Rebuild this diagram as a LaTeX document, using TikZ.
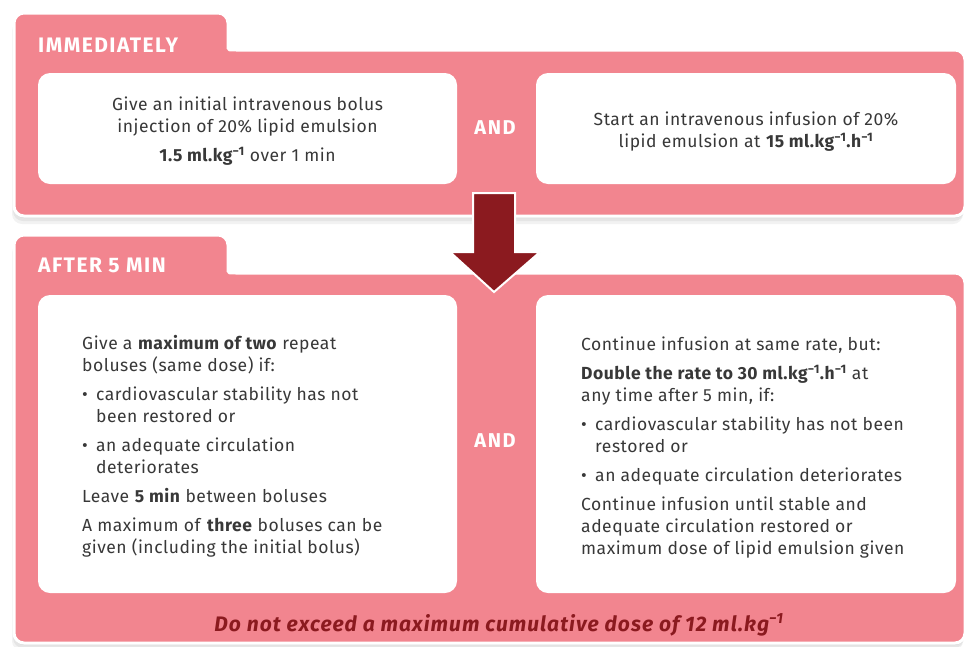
\documentclass[tikz,border=0pt]{standalone}
\usepackage{fontspec}
\setmainfont{Fira Sans}
\definecolor{pnk}{HTML}{F2858F}
\definecolor{arrred}{HTML}{8B1A1F}
\definecolor{txtgray}{HTML}{383838}
\newcommand{\sm}{\textsuperscript{−1}}
\newcommand{\bul}{\makebox[14pt][l]{•}}
\newcommand{\drawpanel}[4]{%
  \path[rounded corners=10pt,#4] (14,#3) -- (14,#1) -- (228,#1) -- (228,#2-12)
    [sharp corners] .. controls (228,#2) .. (240,#2)
    [rounded corners=10pt] -- (965,#2) -- (965,#3) -- cycle;}
\begin{document}
\begin{tikzpicture}[x=1pt,y=-1pt,
  wbox/.style={fill=white, rounded corners=12pt, inner sep=0pt},
  body/.style={inner sep=0pt, text=txtgray, align=left,
    font=\fontsize{17.5}{22}\selectfont\addfontfeature{LetterSpace=3}},
  title/.style={inner sep=0pt, text=white,
    font=\fontsize{21}{24}\selectfont\bfseries\addfontfeature{LetterSpace=7}},
  andlbl/.style={inner sep=0pt, text=white,
    font=\fontsize{20}{22}\selectfont\bfseries\addfontfeature{LetterSpace=8}},
  panelfill/.style={fill=pnk, draw=white, line width=3pt},
  shade/.style={fill=black, opacity=0.05}]
\useasboundingbox (0,0) rectangle (968,646);
\fill[white] (0,0) rectangle (968,646);
% shadows
\drawpanel{13}{50}{216}{shade, shift={(0,2)}}
\drawpanel{13}{50}{216}{shade, shift={(-1,5)}}
\drawpanel{13}{50}{216}{shade, shift={(-2,8)}}
\drawpanel{235}{273}{643}{shade, shift={(0,2)}}
\drawpanel{235}{273}{643}{shade, shift={(-1,5)}}
\drawpanel{235}{273}{643}{shade, shift={(-2,8)}}
% panels
\drawpanel{13}{50}{216}{panelfill}
\drawpanel{235}{273}{643}{panelfill}
% titles
\node[title, anchor=base west] (h1) at (38,52) {IMMEDIATELY};
\node[title, anchor=base west] (h2) at (38,272) {AFTER 5 MIN};
% top boxes
\node[wbox, minimum width=419pt, minimum height=111pt] (b1) at (247.5,128.5) {};
\node[wbox, minimum width=420pt, minimum height=111pt] (b2) at (746,128.5) {};
\node[body, align=center] (t1) at (b1.center) [yshift=-3pt]
  {Give an initial intravenous bolus\\ injection of 20\% lipid emulsion\\[7pt]
   \textbf{1.5 ml.kg\sm} over 1 min};
\node[body, align=center] (t2) at (b2.center) [yshift=-3pt]
  {Start an intravenous infusion of 20\%\\ lipid emulsion at \textbf{15 ml.kg\sm.h\sm}};
\node[andlbl] (a1) at (495,128) {AND};
% arrow
\draw[fill=arrred, draw=white, line width=2pt, line join=miter]
  (473,193) -- (515,193) -- (515,252) -- (540,252) -- (494,292) -- (450,252) -- (473,252) -- cycle;
% bottom boxes
\node[wbox, minimum width=419pt, minimum height=298pt] (b3) at (247.5,444) {};
\node[wbox, minimum width=420pt, minimum height=298pt] (b4) at (746,444) {};
\node[body, anchor=north west] (t3) at (82,335)
  {Give a \textbf{maximum of two} repeat\\
   boluses (same dose) if:\\[7pt]
   \bul cardiovascular stability has not\\
   \hspace*{14pt}been restored or\\[7pt]
   \bul an adequate circulation\\
   \hspace*{14pt}deteriorates\\[7pt]
   Leave \textbf{5 min} between boluses\\[7pt]
   A maximum of \textbf{three} boluses can be\\
   given (including the initial bolus)};
\node[body, anchor=north west] (t4) at (581,337)
  {Continue infusion at same rate, but:\\[7pt]
   \textbf{Double the rate to 30 ml.kg\sm.h\sm} at\\
   any time after 5 min, if:\\[7pt]
   \bul cardiovascular stability has not been\\
   \hspace*{14pt}restored or\\[7pt]
   \bul an adequate circulation deteriorates\\[7pt]
   Continue infusion until stable and\\
   adequate circulation restored or\\
   maximum dose of lipid emulsion given};
\node[andlbl] (a2) at (495,441) {AND};
\node[inner sep=0pt, anchor=base, text=arrred,
  font=\fontsize{21}{24}\selectfont\bfseries\itshape\addfontfeature{LetterSpace=5}]
  (note) at (499,631) {Do not exceed a maximum cumulative dose of 12 ml.kg\sm};
\end{tikzpicture}
\end{document}
